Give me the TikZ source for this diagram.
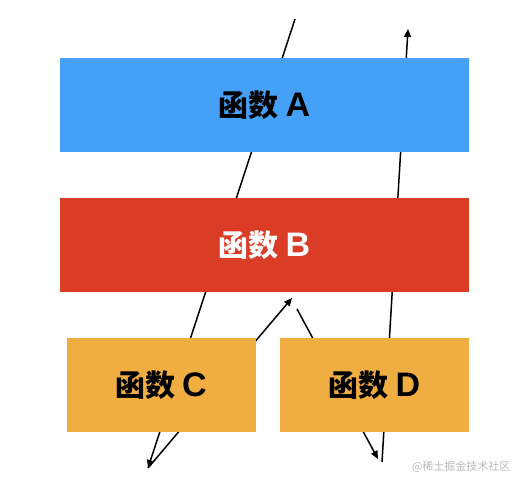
\documentclass[tikz,border=0pt]{standalone}
\usepackage{fontspec}
\setmainfont{Noto Sans CJK SC}
\newfontfamily\latinfont{Liberation Sans}
\usepackage{tikz}
\usetikzlibrary{arrows.meta, positioning}
\definecolor{boxblue}{RGB}{69,161,248}
\definecolor{boxred}{RGB}{218,60,38}
\definecolor{boxorange}{RGB}{240,174,66}
\definecolor{markgray}{RGB}{185,185,185}
\newcommand{\fname}[1]{函数 {\latinfont\fontsize{34}{34}\selectfont #1}}

\begin{document}
\begin{tikzpicture}[
    x=1pt, y=-1pt,
    func/.style = {
      rectangle, inner sep=0pt,
      minimum height=94pt,
      font=\fontsize{30}{30}\selectfont\bfseries
    },
    wide/.style  = {func, minimum width=409pt},
    narrow/.style = {func, minimum width=189pt, fill=boxorange},
    arrow/.style = {-{Triangle[length=8pt,width=7pt]}, line width=1.5pt, color=black}
  ]
  \path[use as bounding box] (0,0) rectangle (526,488);

  % path end points
  \coordinate (inTop)    at (295, 19);
  \coordinate (outLeft)  at (148,468);
  \coordinate (backUp)   at (292,298);
  \coordinate (dStart)   at (297,309);
  \coordinate (dEnd)     at (378,459);
  \coordinate (rBottom)  at (382,462);
  \coordinate (outTop)   at (408, 29);

  % Lines (behind the boxes)
  \draw[arrow] (inTop)   -- (outLeft);
  \draw[arrow] (outLeft) -- (backUp);
  \draw[arrow] (dStart)  -- (dEnd);
  \draw[arrow] (rBottom) -- (outTop);

  % Row 1 and 2
  \node[wide, fill=boxblue]            at (264.5,105) (funcA) {\fname{A}};
  \node[wide, fill=boxred, text=white] at (264.5,245) (funcB) {\fname{B}};

  % Row 3
  \node[narrow] at (161,385)   (funcC) {\fname{C}};
  \node[narrow] at (374.5,385) (funcD) {\fname{D}};

  \node[text=markgray, font=\fontsize{11}{11}\selectfont, anchor=east]
    at (514,467) (mark) {@稀土掘金技术社区};
\end{tikzpicture}
\end{document}
